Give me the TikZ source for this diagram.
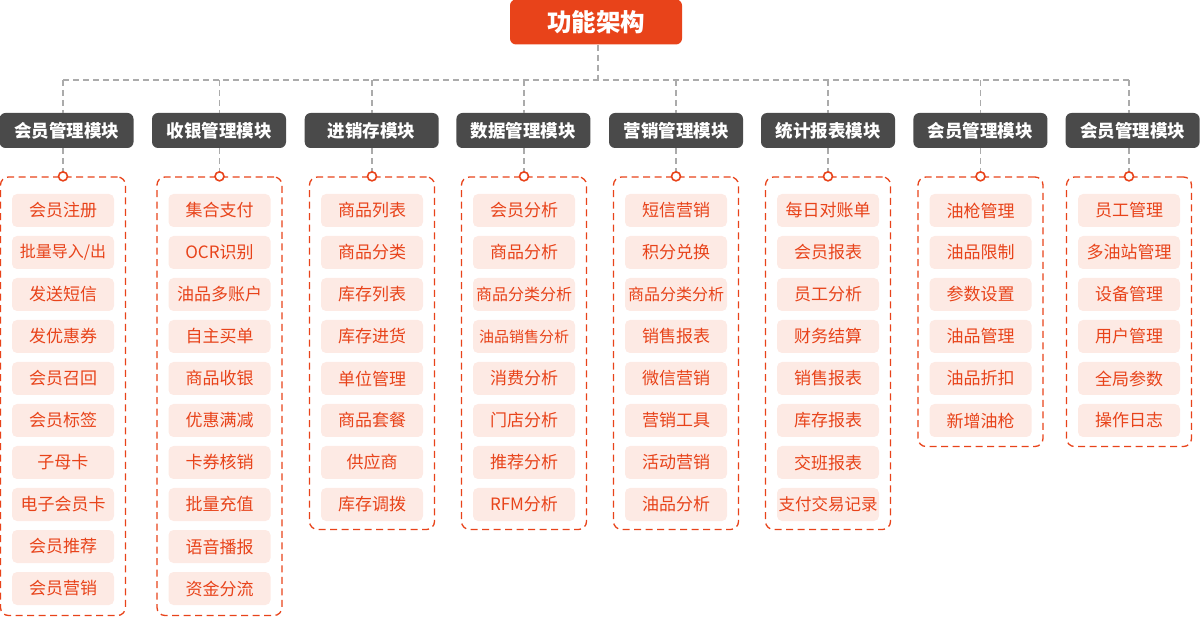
\documentclass[tikz,border=0pt]{standalone}
\usepackage{fontspec}
\setmainfont{Noto Sans CJK SC}
\definecolor{org}{HTML}{E8431A}
\definecolor{pinkfill}{HTML}{FDEAE4}
\definecolor{dk}{HTML}{4A4A4A}
\definecolor{gl}{HTML}{ABABAB}
\tikzset{
  titlebox/.style={fill=org, rounded corners=6pt, minimum width=172pt, minimum height=45pt, inner sep=0pt, text=white, font=\bfseries\fontsize{24.5}{24.5}\selectfont},
  headbox/.style={fill=dk, rounded corners=6pt, minimum width=134pt, minimum height=35pt, inner sep=0pt, text=white, font=\bfseries\fontsize{17.5}{17.5}\selectfont},
  groupbox/.style={draw=org, line width=1.3pt, dash pattern=on 7pt off 4.5pt, rounded corners=8pt, minimum width=125pt, inner sep=0pt},
  itembox/.style={fill=pinkfill, rounded corners=5pt, minimum width=102pt, minimum height=33pt, inner sep=0pt, text=org, font=\fontsize{17}{17}\selectfont},
  link/.style={draw=gl, line width=1.4pt, dash pattern=on 6pt off 4pt},
  dot/.style={circle, draw=org, fill=white, line width=1.6pt, minimum size=9pt, inner sep=0pt},
}
\newcommand\fs[1]{\fontsize{#1}{#1}\selectfont}
\newcommand\mkcol[6]{%
  \pgfmathsetmacro\cy{(177+#6)/2}%
  \pgfmathsetmacro\ch{#6-177}%
  \node[headbox] (h#1) at (#3,130.5) {#4};
  \node[groupbox, minimum height=\ch pt] (g#1) at (#2,\cy) {};
  \coordinate (t#1) at (#2,80);
  \draw[link] (t#1) -- (t#1 |- h#1.north);
  \draw[link] (h#1.south -| g#1.north) -- (g#1.north);
  \node[dot] (d#1) at (g#1.north) {};
  \foreach \t [count=\k] in {#5} {\node[itembox] (i#1-\k) at (#2,{210.5+42*(\k-1)}) {\t};}
}
\begin{document}
\begin{tikzpicture}[x=1pt,y=-1pt]
\useasboundingbox (0,0) rectangle (1200,617);
\node[titlebox] (title) at (596,22) {功能架构};
\coordinate (hub) at (598,80);
\coordinate (tl) at (63,80);
\coordinate (tr) at (1129,80);
\draw[link] (title.south -| hub) -- (hub);
\draw[link] (tl) -- (tr);
\mkcol{1}{63}{66.5}{会员管理模块}{会员注册,{\fs{16}批量导入/出},发送短信,发优惠券,会员召回,会员标签,子母卡,电子会员卡,会员推荐,会员营销}{615.5}
\mkcol{2}{219.5}{219}{收银管理模块}{集合支付,OCR识别,油品多账户,自主买单,商品收银,优惠满减,卡券核销,批量充值,语音播报,资金分流}{615.5}
\mkcol{3}{372}{371.7}{进销存模块}{商品列表,商品分类,库存列表,库存进货,单位管理,商品套餐,供应商,库存调拨}{529.5}
\mkcol{4}{524}{523.4}{数据管理模块}{会员分析,商品分析,{\fs{16}商品分类分析},{\fs{15}油品销售分析},消费分析,门店分析,推荐分析,RFM分析}{529.5}
\mkcol{5}{676}{676}{营销管理模块}{短信营销,积分兑换,{\fs{16}商品分类分析},销售报表,微信营销,营销工具,活动营销,油品分析}{529.5}
\mkcol{6}{828}{828}{统计报表模块}{每日对账单,会员报表,员工分析,财务结算,销售报表,库存报表,交班报表,{\fs{16.5}支付交易记录}}{529.5}
\mkcol{7}{980.5}{980.4}{会员管理模块}{油枪管理,油品限制,参数设置,油品管理,油品折扣,新增油枪}{446.5}
\mkcol{8}{1129}{1132.6}{会员管理模块}{员工管理,多油站管理,设备管理,用户管理,全局参数,操作日志}{446.5}
\end{tikzpicture}
\end{document}
